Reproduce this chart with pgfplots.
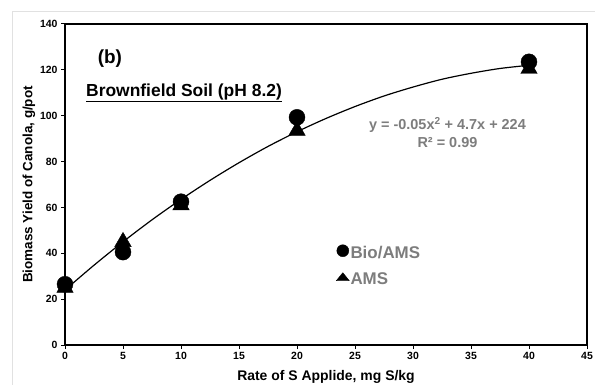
\documentclass[border=0pt]{standalone}
\usepackage{pgfplots}
\pgfplotsset{compat=1.18}
\usepackage{fontspec}
\setmainfont{Liberation Sans}
\definecolor{eqgray}{RGB}{125,125,125}
\definecolor{framegray}{RGB}{225,225,225}
\begin{document}
\begin{tikzpicture}[x=1bp,y=1bp]
\useasboundingbox (0,0) rectangle (595,384);
\draw[framegray, line width=1bp] (12,-2) -- (12,372) -- (600,372);
\begin{axis}[
  at={(65bp,39bp)}, anchor=south west,
  scale only axis, width=522bp, height=321bp,
  xmin=0, xmax=45, ymin=0, ymax=140,
  xtick={0,5,...,45}, ytick={0,20,...,140},
  tick align=outside, xtick pos=bottom, ytick pos=left,
  major tick length=4bp,
  tick style={black, line width=1bp},
  axis line style={black, line width=1.2bp},
  /pgf/number format/assume math mode=true,
  ticklabel style={font=\fontsize{10.5}{12}\selectfont\bfseries},
  xlabel={Rate of S Applide, mg S/kg},
  ylabel={Biomass Yield of Canola, g/pot},
  xlabel style={font=\fontsize{14}{16}\selectfont\bfseries, yshift=-4bp},
  ylabel style={font=\fontsize{13.5}{16}\selectfont\bfseries, yshift=-2bp},
  legend style={draw=none, fill=none, at={(0.519,0.245)}, anchor=west,
    font=\fontsize{17}{20}\selectfont\bfseries, text=eqgray, row sep=9bp,
    inner sep=0pt, nodes={inner sep=1bp, text height=12bp, text depth=3bp}},
  legend cell align=left,
]
\addplot[black, line width=1.2bp, smooth, forget plot] coordinates {
(0,24) (2.5,34.8) (5,45) (7.5,54.6) (10,63.5) (12.5,71.8) (15,79.5) (17.5,86.6)
(20,93) (22.5,98.8) (25,104) (27.5,108.6) (30,112.5) (32.5,115.9) (35,118.5)
(37.5,120.6) (40,122)};
\addplot[only marks, mark=triangle*, mark size=9.5bp, black, forget plot] coordinates {
(0,25) (5,45) (10,61) (20,93.5) (40,120.5)};
\addplot[only marks, mark=*, mark size=8bp, black,
  legend image code/.code={\fill[black] (6bp,0.3em) circle (6bp);}] coordinates {
(0,26.5) (5,40.5) (10,62.5) (20,99.3) (40,123.5)};
\addlegendentry{Bio/AMS}
\addlegendimage{only marks, mark=triangle*, black,
  legend image code/.code={\fill[black] (-0.5bp,-0.1em) -- (12.5bp,-0.1em) -- (6bp,0.7em) -- cycle;}}
\addlegendentry{AMS}
\draw[black, line width=2bp] (rel axis cs:0,0) -- (rel axis cs:0,1);
\draw[black, line width=2bp] (rel axis cs:0,0) -- (rel axis cs:1,0);
\node[font=\fontsize{19}{22}\selectfont\bfseries, anchor=west, inner sep=0pt] at (axis cs:2.81,125) {(b)};
\node[font=\fontsize{17.5}{20}\selectfont\bfseries, anchor=base west, inner sep=0pt] at (axis cs:1.81,108.3) {\underline{Brownfield Soil (pH 8.2)}};
\node[font=\fontsize{14.5}{16}\selectfont\bfseries, text=eqgray, anchor=base, inner sep=0pt] at (axis cs:32.97,93.8) {y = -0.05x\textsuperscript{2} + 4.7x + 224};
\node[font=\fontsize{14.5}{16}\selectfont\bfseries, text=eqgray, anchor=base, inner sep=0pt] at (axis cs:32.97,86.2) {R² = 0.99};
\end{axis}
\end{tikzpicture}
\end{document}
